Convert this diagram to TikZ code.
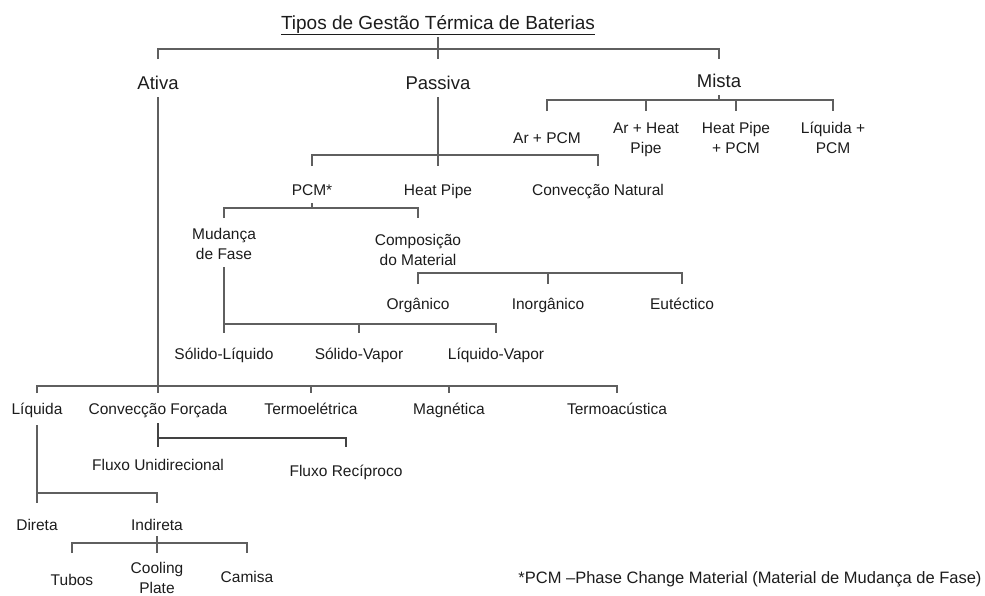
\documentclass[tikz,border=0pt]{standalone}
\usepackage{fontspec}
\setmainfont{Liberation Sans}
\usepackage{xcolor}
\usetikzlibrary{positioning}

\definecolor{linegray}{HTML}{5F5F5F}
\definecolor{txtgray}{HTML}{1C1C1C}

\tikzset{
  lbl/.style={anchor=base,inner sep=0pt,text=txtgray,align=center,
    font=\fontsize{15.5}{20}\selectfont},
  mainlbl/.style={lbl,font=\fontsize{18.5}{22}\selectfont},
  link/.style={draw=linegray,line width=1.4pt},
  thlink/.style={draw=linegray!70!black,line width=2.4pt}
}

\begin{document}
\begin{tikzpicture}[x=1pt,y=-1pt]
\useasboundingbox (0,0) rectangle (985,595);

% Title and main types
\node[mainlbl,font=\fontsize{19}{22}\selectfont] (title) at (438,29) {\underline{Tipos de Gestão Térmica de Baterias}};
\node[mainlbl] (ativa) at (158,89) {Ativa};
\node[mainlbl] (passiva) at (438,89) {Passiva};
\node[mainlbl] (mista) at (719,87.5) {Mista};
\draw[link] (title |- 0,37) -- (passiva |- 0,59);
\draw[link] (ativa |- 0,59) |- (mista |- 0,49) -- (mista |- 0,59);

% Mista (base = last line)
\node[lbl] (arpcm) at (547,143) {Ar + PCM};
\node[lbl] (arhp) at (646,153) {Ar + Heat\\Pipe};
\node[lbl] (hppcm) at (736,153) {Heat Pipe\\+ PCM};
\node[lbl] (liqpcm) at (833,153) {Líquida +\\PCM};
\draw[link] (mista |- 0,95) -- (mista |- 0,100);
\draw[link] (arpcm |- 0,111) |- (liqpcm |- 0,100) -- (liqpcm |- 0,111);
\foreach \n in {arhp,hppcm}
  \draw[link] (\n |- 0,100) -- (\n |- 0,111);

% Passiva
\node[lbl] (pcm) at (312,195) {PCM*};
\node[lbl] (hpipe) at (438,195) {Heat Pipe};
\node[lbl] (convnat) at (598,195) {Convecção Natural};
\draw[link] (passiva |- 0,97) -- (hpipe |- 0,166);
\draw[link] (pcm |- 0,166) |- (convnat |- 0,155) -- (convnat |- 0,166);

% PCM
\node[lbl] (mudanca) at (224,259) {Mudança\\de Fase};
\node[lbl] (compos) at (418,265) {Composição\\do Material};
\draw[link] (pcm |- 0,203) -- (pcm |- 0,208);
\draw[link] (mudanca |- 0,218) |- (compos |- 0,208) -- (compos |- 0,218);

% Composicao do material
\node[lbl] (organico) at (418,309) {Orgânico};
\node[lbl] (inorg) at (548,309) {Inorgânico};
\node[lbl] (eutect) at (682,309) {Eutéctico};
\draw[link] (organico |- 0,284) |- (eutect |- 0,273) -- (eutect |- 0,284);
\draw[link] (inorg |- 0,273) -- (inorg |- 0,284);

% Mudanca de fase
\node[lbl] (solliq) at (224,359) {Sólido-Líquido};
\node[lbl] (solvap) at (359,359) {Sólido-Vapor};
\node[lbl] (liqvap) at (496,359) {Líquido-Vapor};
\draw[link] (mudanca |- 0,267) -- (solliq |- 0,333);
\draw[link] (solliq |- 0,324) -| (liqvap |- 0,333);
\draw[link] (solvap |- 0,324) -- (solvap |- 0,333);

% Ativa
\node[lbl] (liquida) at (37,414) {Líquida};
\node[lbl] (convforc) at (158,414) {Convecção Forçada};
\node[lbl] (termoel) at (311,414) {Termoelétrica};
\node[lbl] (magnet) at (449,414) {Magnética};
\node[lbl] (termoac) at (617,414) {Termoacústica};
\draw[link] (ativa |- 0,97) -- (convforc |- 0,393);
\draw[link] (liquida |- 0,393) |- (termoac |- 0,386) -- (termoac |- 0,393);
\foreach \n in {termoel,magnet}
  \draw[link] (\n |- 0,386) -- (\n |- 0,393);

% Conveccao forcada
\node[lbl] (fluni) at (158,470) {Fluxo Unidirecional};
\node[lbl] (flrec) at (346,476) {Fluxo Recíproco};
\draw[thlink] (convforc |- 0,423) -- (fluni |- 0,447);
\draw[thlink] (fluni |- 0,438) -| (flrec |- 0,447);

% Liquida
\node[lbl] (direta) at (37,530.5) {Direta};
\node[lbl] (indireta) at (157,530.5) {Indireta};
\draw[link] (liquida |- 0,425) -- (direta |- 0,503);
\draw[link] (direta |- 0,493) -| (indireta |- 0,503);

% Indireta
\node[lbl] (tubos) at (72,585) {Tubos};
\node[lbl] (cooling) at (157,593) {Cooling\\Plate};
\node[lbl] (camisa) at (247,582.5) {Camisa};
\draw[link] (indireta |- 0,536) -- (cooling |- 0,553);
\draw[link] (tubos |- 0,553) |- (camisa |- 0,543) -- (camisa |- 0,553);

% Nota
\node[lbl,font=\fontsize{16.5}{20}\selectfont] (nota) at (750,583.5) {*PCM –Phase Change Material (Material de Mudança de Fase)};
\end{tikzpicture}
\end{document}
